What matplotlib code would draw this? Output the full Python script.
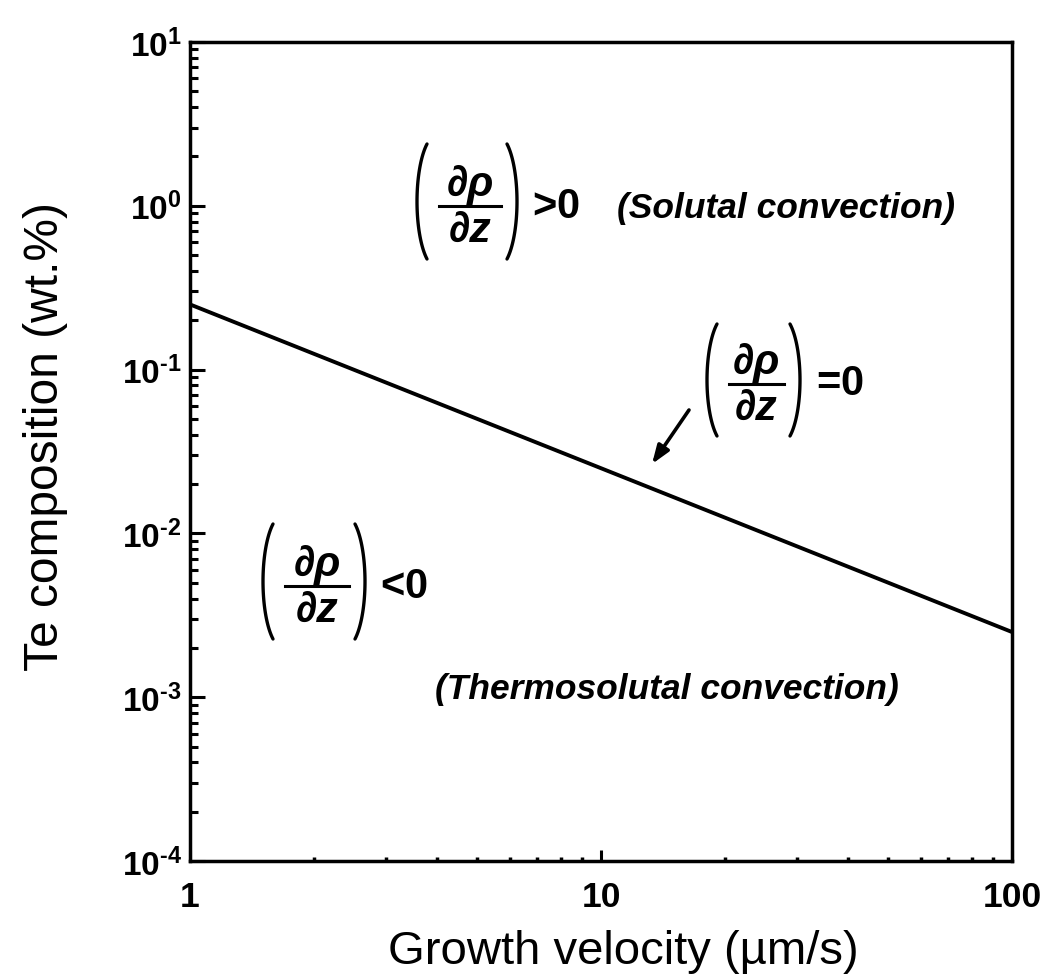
import numpy as np
import matplotlib
matplotlib.use("Agg")
import matplotlib.pyplot as plt
from matplotlib.lines import Line2D
from matplotlib.ticker import LogLocator, FixedLocator, FixedFormatter, NullFormatter

plt.rcParams['font.family'] = ['Liberation Sans', 'DejaVu Sans']
plt.rcParams['mathtext.fontset'] = 'custom'
plt.rcParams['mathtext.rm'] = 'Liberation Sans:bold'
plt.rcParams['mathtext.it'] = 'Liberation Sans:italic:bold'
plt.rcParams['mathtext.bf'] = 'Liberation Sans:bold'

# Data
velocity = [1, 100]              # growth velocity (um/s)
te_comp = [0.25, 0.0025]         # Te composition (wt.%) on d(rho)/dz = 0
x_ticks = [1, 10, 100]
x_ticklabels = ["1", "10", "100"]
y_ticks = [1e-4, 1e-3, 1e-2, 1e-1, 1e0, 1e1]
y_ticklabels = [r"10$^{\text{-}4}$", r"10$^{\text{-}3}$", r"10$^{\text{-}2}$",
                r"10$^{\text{-}1}$", r"10$^{0}$", r"10$^{1}$"]

W, H = 1042, 979
AX_L, AX_R, AX_T, AX_B = 190, 1012, 43, 862

fig = plt.figure(figsize=(W / 100, H / 100), dpi=100)
ax = fig.add_axes([AX_L / W, 1 - AX_B / H, (AX_R - AX_L) / W, (AX_B - AX_T) / H])

ax.plot(velocity, te_comp, color='black', lw=2.8, solid_capstyle='butt')

ax.set_xscale('log')
ax.set_yscale('log')
ax.set_xlim(1, 100)
ax.set_ylim(1e-4, 1e1)

ax.xaxis.set_major_locator(FixedLocator(x_ticks))
ax.xaxis.set_major_formatter(FixedFormatter(x_ticklabels))
ax.yaxis.set_major_locator(FixedLocator(y_ticks))
ax.yaxis.set_major_formatter(FixedFormatter(y_ticklabels))
ax.xaxis.set_minor_locator(LogLocator(base=10, subs=range(2, 10), numticks=20))
ax.yaxis.set_minor_locator(LogLocator(base=10, subs=range(2, 10), numticks=20))
ax.xaxis.set_minor_formatter(NullFormatter())
ax.yaxis.set_minor_formatter(NullFormatter())

for s in ax.spines.values():
    s.set_linewidth(2.5)

ax.tick_params(axis='y', which='major', direction='in', length=11, width=2.2, pad=6,
               labelsize=24, right=False)
ax.tick_params(axis='y', which='minor', direction='in', length=6, width=2.2, right=False)
ax.tick_params(axis='x', which='major', direction='in', length=8, width=2.2, pad=14,
               labelsize=25.5, top=False)
ax.tick_params(axis='x', which='minor', direction='in', length=3, width=2.5, top=False)
for lab in ax.get_xticklabels() + ax.get_yticklabels():
    lab.set_fontweight('bold')

ax.set_xlabel("Growth velocity (\u00b5m/s)", fontsize=34)
ax.set_ylabel("Te composition (wt.%)", fontsize=34.5)
ax.xaxis.set_label_coords(0.527, -0.083)
ax.yaxis.set_label_coords(-0.148, 0.52)


def fx(px):
    return (px - AX_L) / (AX_R - AX_L)


def fy(py):
    return (AX_B - py) / (AX_B - AX_T)


def paren(xedge, ytop, ybot, side):
    """Tall thin parenthesis as an elliptical arc; pixel positions."""
    a = 20.0
    b = (ybot - ytop) / (2 * np.sin(np.radians(60)))
    cy = (ytop + ybot) / 2
    t = np.radians(np.linspace(120, 240, 60))
    if side == 'left':
        cx = xedge + a
        xs = cx + a * np.cos(t)
    else:
        cx = xedge - a
        xs = cx - a * np.cos(t)
    ys = cy + b * np.sin(t)
    ax.add_line(Line2D(fx(xs), fy(ys), transform=ax.transAxes, lw=2.4,
                       color='black', solid_capstyle='round'))


def density_fraction(xl, xr, ytop, ybot, ybar):
    """Draw (d rho / d z) with tall parentheses; pixel positions."""
    paren(xl, ytop, ybot, 'left')
    paren(xr, ytop, ybot, 'right')
    cx = (xl + xr) / 2
    ax.add_line(Line2D([fx(xl + 22), fx(xr - 16)], [fy(ybar), fy(ybar)],
                       transform=ax.transAxes, lw=2.2, color='black'))
    ax.text(fx(cx + 3), fy(ybar - 2), "\u2202\u03c1", transform=ax.transAxes,
            fontsize=31, fontweight='bold', style='italic', ha='center', va='bottom')
    ax.text(fx(cx + 3), fy(ybar + 4), "\u2202z", transform=ax.transAxes,
            fontsize=31, fontweight='bold', style='italic', ha='center', va='top')


note_fs = 25.5
sign_fs = 30

# > 0 region (solutal)
density_fraction(417, 517, 145, 260, 207)
ax.text(fx(532), fy(207), r'>$\mathit{0}$', transform=ax.transAxes, fontsize=sign_fs,
        ha='left', va='center', fontweight='bold')
ax.text(fx(617), fy(208), '(Solutal convection)', transform=ax.transAxes,
        fontsize=note_fs, ha='left', va='center', fontweight='bold', style='italic')

# < 0 region (thermosolutal)
density_fraction(263, 365, 525, 640, 587)
ax.text(fx(380), fy(587), r'<$\mathit{0}$', transform=ax.transAxes, fontsize=sign_fs,
        ha='left', va='center', fontweight='bold')
ax.text(fx(435), fy(690), '(Thermosolutal convection)', transform=ax.transAxes,
        fontsize=note_fs, ha='left', va='center', fontweight='bold', style='italic')

# = 0 boundary
density_fraction(707, 800, 325, 437, 385)
ax.text(fx(816), fy(384), r'=$\mathit{0}$', transform=ax.transAxes, fontsize=sign_fs,
        ha='left', va='center', fontweight='bold')
ax.annotate('', xy=(fx(652), fy(465)), xycoords='axes fraction',
            xytext=(fx(689), fy(411)), textcoords='axes fraction',
            arrowprops=dict(arrowstyle='-|>,head_length=1.1,head_width=0.4',
                            color='black', lw=2.6, shrinkA=0, shrinkB=0))

fig.savefig("out.png", dpi=100)
